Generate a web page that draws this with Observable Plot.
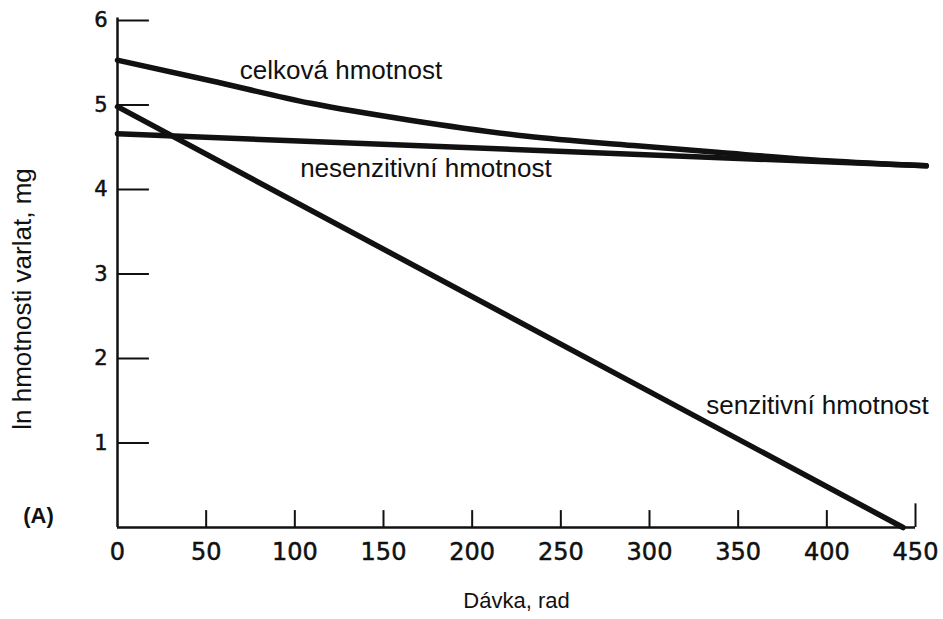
<!DOCTYPE html>
<html>
<head>
<meta charset="utf-8">
<script src="https://cdn.jsdelivr.net/npm/d3@7"></script>
<script src="https://cdn.jsdelivr.net/npm/@observablehq/plot@0.6"></script>
<style>
  html, body { margin: 0; padding: 0; background: #fff; }
  #chart svg { display: block; }
</style>
</head>
<body>
<div id="chart"></div>
<script>
// Dose (rad) values and ln(testis mass, mg)
const celkovaX = [0, 52, 109, 165, 231, 291, 338, 400, 456];
const celkovaY = [5.53, 5.29, 5.02, 4.82, 4.63, 4.52, 4.44, 4.34, 4.28];

const nesenzX = [0, 456];
const nesenzY = [4.66, 4.28];

const senzX = [0, 443];
const senzY = [4.98, 0];

const xTicks = [0, 50, 100, 150, 200, 250, 300, 350, 400, 450];
const yTicks = [1, 2, 3, 4, 5, 6];

const labelTexts = ["celková hmotnost", "nesenzitivní hmotnost", "senzitivní hmotnost"];
const labelX = [69, 103, 332];
const labelY = [5.41, 4.25, 1.44];

const xTitle = "Dávka, rad";
const yTitle = "ln hmotnosti varlat, mg";
const panelTag = "(A)";

const toPts = (xs, ys) => xs.map((x, i) => ({x, y: ys[i]}));
const series = [
  ...toPts(celkovaX, celkovaY).map(d => ({...d, s: "celková"})),
  ...toPts(nesenzX, nesenzY).map(d => ({...d, s: "nesenzitivní"})),
  ...toPts(senzX, senzY).map(d => ({...d, s: "senzitivní"}))
];
const labels = labelTexts.map((t, i) => ({t, x: labelX[i], y: labelY[i]}));

const ink = "#111";
const tickFont = "DejaVu Sans";
const textFont = "Liberation Sans, Arial, sans-serif";

const chart = Plot.plot({
  width: 943,
  height: 619,
  marginLeft: 117,
  marginRight: 28,
  marginTop: 20,
  marginBottom: 92,
  style: {background: "#fff"},
  x: {domain: [0, 450], axis: null},
  y: {domain: [0, 6], axis: null},
  marks: [
    // axis lines
    Plot.ruleY([0], {x1: 0, x2: 450, stroke: ink, strokeWidth: 2.5}),
    Plot.ruleX([0], {y1: 0, y2: 6.03, stroke: ink, strokeWidth: 2.5}),
    // inward ticks
    Plot.ruleX(xTicks.filter(d => d > 0), {x: d => d, y1: 0, y2: d => d === 450 ? 0.28 : 0.2, stroke: ink, strokeWidth: 2}),
    Plot.ruleY(yTicks, {y: d => d, x1: 0, x2: 18, stroke: ink, strokeWidth: 2}),
    // tick labels
    Plot.text(xTicks, {x: d => d, y: 0, text: d => String(d), dy: 25,
      fontFamily: tickFont, fontSize: 24, fill: ink, stroke: ink, strokeWidth: 0.5, textAnchor: "middle"}),
    Plot.text(yTicks, {x: 0, y: d => d, text: d => String(d), dx: -10,
      fontFamily: tickFont, fontSize: 21, fill: ink, stroke: ink, strokeWidth: 0.5, textAnchor: "end"}),
    // data lines
    Plot.line(series, {x: "x", y: "y", z: "s", curve: "monotone-x",
      stroke: ink, strokeWidth: 5.5, strokeLinecap: "round"}),
    // annotations
    Plot.text(labels, {x: "x", y: "y", text: "t", textAnchor: "start",
      fontFamily: textFont, fontSize: 26, fill: ink}),
    // axis titles
    Plot.text([xTitle], {frameAnchor: "bottom", text: d => d, dy: 80,
      fontFamily: textFont, fontSize: 22, fill: ink}),
    Plot.text([yTitle], {frameAnchor: "left", text: d => d, dx: -95, dy: 25, rotate: -90,
      textAnchor: "middle", fontFamily: textFont, fontSize: 26, fill: ink}),
    Plot.text([panelTag], {frameAnchor: "bottom-left", text: d => d, dx: -79, dy: -5,
      textAnchor: "middle", fontFamily: textFont, fontSize: 22, fontWeight: "bold", fill: ink})
  ]
});
document.getElementById("chart").appendChild(chart);
</script>
</body>
</html>
